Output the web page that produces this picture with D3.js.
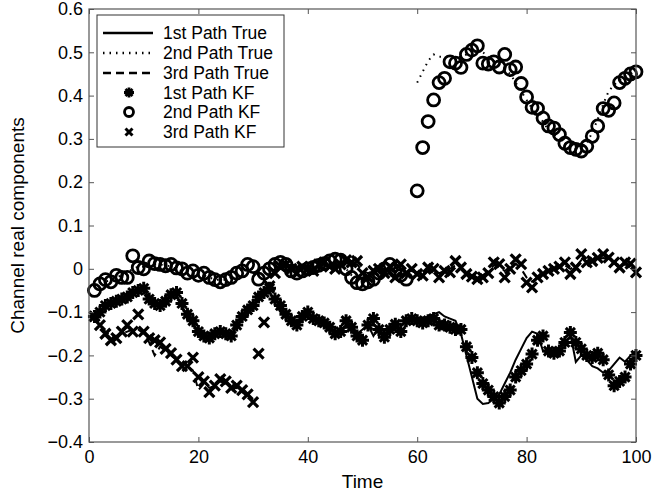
<!DOCTYPE html>
<html>
<head>
<meta charset="utf-8">
<script src="https://cdn.jsdelivr.net/npm/d3@7"></script>
<style>
  body { margin: 0; background: #fff; }
  text { font-family: "Liberation Sans", Arial, Helvetica, sans-serif; }
</style>
</head>
<body>
<script>
var width = 670,
    height = 497;
var margin = {left: 89, right: 34, top: 9, bottom: 55};

// time index 1..100
var time = d3.range(1, 101);

var path1True = [-0.11,-0.10,-0.09,-0.08,-0.075,-0.07,-0.06,-0.055,-0.05,-0.05,
 -0.065,-0.08,-0.08,-0.075,-0.06,-0.06,-0.085,-0.11,-0.125,-0.145,
 -0.155,-0.155,-0.15,-0.15,-0.15,-0.15,-0.135,-0.115,-0.10,-0.085,
 -0.07,-0.055,-0.05,-0.08,-0.10,-0.11,-0.12,-0.125,-0.115,-0.105,
 -0.115,-0.12,-0.125,-0.135,-0.145,-0.14,-0.13,-0.14,-0.15,-0.14,
 -0.13,-0.155,-0.135,-0.14,-0.135,-0.13,-0.155,-0.125,-0.12,-0.12,
 -0.115,-0.11,-0.105,-0.10,-0.11,-0.115,-0.12,-0.15,-0.20,-0.25,
 -0.30,-0.312,-0.31,-0.30,-0.29,-0.265,-0.24,-0.21,-0.185,-0.16,
 -0.145,-0.15,-0.19,-0.195,-0.19,-0.18,-0.16,-0.15,-0.215,-0.20,
 -0.21,-0.225,-0.23,-0.24,-0.235,-0.22,-0.205,-0.215,-0.20,-0.19];

var path2True = [-0.04,-0.035,-0.03,-0.025,-0.02,-0.015,-0.01,0.0,0.005,0.005,
 0.01,0.01,0.01,0.008,0.005,0.0,-0.005,-0.01,-0.01,-0.015,
 -0.015,-0.02,-0.025,-0.025,-0.025,-0.02,-0.01,0.0,0.005,0.0,
 -0.01,-0.005,0.0,0.005,0.01,0.005,0.0,-0.005,-0.005,0.0,
 0.005,0.01,0.012,0.015,0.018,0.012,0.0,-0.015,-0.025,-0.03,
 -0.028,-0.02,-0.01,0.0,0.005,-0.005,-0.012,-0.02,null,0.43,
 0.455,0.48,0.495,0.49,0.49,0.49,0.49,0.49,0.495,0.50,
 0.505,0.50,0.49,0.48,0.47,0.46,0.45,0.43,0.41,0.39,
 0.37,0.35,0.34,0.32,0.31,0.30,0.29,0.28,0.28,0.28,
 0.29,0.315,0.345,0.38,0.41,0.425,0.435,0.445,0.45,0.46];

var path3True = [-0.115,-0.13,-0.145,-0.155,-0.155,-0.15,-0.145,-0.14,-0.14,-0.15,
 -0.17,-0.2,-0.18,-0.19,-0.2,-0.21,-0.22,-0.225,-0.235,-0.28,
 -0.265,-0.275,-0.27,-0.26,-0.265,-0.275,-0.275,-0.285,-0.295,-0.305,
 null,null,-0.02,-0.01,0.0,0.005,0.0,-0.005,0.0,0.0,
 0.0,0.005,0.01,0.005,0.005,0.01,0.015,0.012,0.01,-0.005,
 -0.01,-0.005,-0.005,-0.005,0.0,-0.01,0.0,-0.005,-0.005,-0.01,
 -0.01,-0.005,-0.005,-0.01,-0.005,0.0,0.008,0.0,-0.01,-0.015,
 -0.02,-0.015,-0.005,0.008,0.005,-0.005,0.005,0.012,0.0,-0.02,
 -0.03,-0.02,-0.01,-0.005,0.0,0.005,0.008,0.0,0.005,0.02,
 0.018,0.02,0.022,0.025,0.022,0.015,0.008,0.01,0.008,0.0];

var path1KF = [-0.11,-0.10,-0.085,-0.08,-0.075,-0.07,-0.065,-0.055,-0.05,-0.045,
 -0.07,-0.08,-0.085,-0.075,-0.06,-0.055,-0.08,-0.105,-0.12,-0.145,
 -0.155,-0.16,-0.15,-0.145,-0.15,-0.155,-0.13,-0.11,-0.095,-0.085,
 -0.065,-0.055,-0.045,-0.07,-0.085,-0.105,-0.12,-0.13,-0.11,-0.10,
 -0.115,-0.12,-0.125,-0.135,-0.15,-0.145,-0.12,-0.135,-0.155,-0.165,
 -0.13,-0.115,-0.14,-0.158,-0.14,-0.128,-0.145,-0.12,-0.115,-0.12,
 -0.125,-0.12,-0.115,-0.13,-0.13,-0.135,-0.14,-0.14,-0.18,-0.205,
 -0.24,-0.265,-0.28,-0.295,-0.31,-0.295,-0.28,-0.25,-0.235,-0.22,
 -0.197,-0.165,-0.155,-0.19,-0.195,-0.19,-0.17,-0.147,-0.17,-0.185,
 -0.2,-0.205,-0.195,-0.21,-0.245,-0.27,-0.26,-0.25,-0.22,-0.2];

var path2KF = [-0.05,-0.035,-0.025,-0.03,-0.015,-0.02,-0.02,0.03,0.003,0.0,
 0.018,0.012,0.01,0.007,0.01,0.002,0.0,-0.01,-0.005,-0.015,
 -0.01,-0.02,-0.025,-0.03,-0.025,-0.02,-0.01,-0.005,0.01,0.005,
 -0.024,-0.01,0.0,0.01,0.015,0.01,-0.005,-0.01,-0.005,0.0,
 0.003,0.008,0.012,0.018,0.022,0.02,0.0,-0.02,-0.032,-0.035,
 -0.03,-0.024,-0.01,0.0,0.01,-0.005,-0.015,-0.024,null,0.18,
 0.28,0.34,0.39,0.43,0.44,0.478,0.475,0.465,0.495,0.505,
 0.515,0.475,0.473,0.478,0.466,0.495,0.46,0.466,0.428,0.397,
 0.373,0.37,0.348,0.33,0.325,0.31,0.29,0.28,0.276,0.272,
 0.283,0.306,0.33,0.37,0.366,0.383,0.43,0.44,0.45,0.455];

var path3KF = [-0.11,-0.13,-0.15,-0.165,-0.16,-0.145,-0.13,-0.145,-0.105,-0.145,
 -0.16,-0.165,-0.17,-0.185,-0.195,-0.21,-0.225,-0.225,-0.205,-0.25,
 -0.26,-0.285,-0.27,-0.255,-0.26,-0.275,-0.27,-0.28,-0.29,-0.308,
 -0.196,-0.124,-0.04,-0.01,0.005,0.01,0.0,-0.01,0.005,0.0,
 -0.005,0.01,0.015,0.005,0.0,0.01,0.02,0.015,0.018,-0.01,
 -0.02,-0.005,0.0,-0.01,0.005,-0.02,0.01,-0.01,0.0,-0.012,
 -0.016,0.003,0.0,-0.02,-0.005,-0.008,0.018,0.003,-0.012,-0.018,
 -0.024,-0.02,-0.01,0.015,0.011,-0.02,0.0,0.022,0.011,-0.032,
 -0.043,-0.02,-0.012,-0.005,0.0,0.005,0.015,-0.012,0.003,0.034,
 0.015,0.018,0.025,0.034,0.026,0.015,0.003,0.015,0.012,-0.008];

var xTicks = [0, 20, 40, 60, 80, 100];
var yTicks = [-0.4, -0.3, -0.2, -0.1, 0, 0.1, 0.2, 0.3, 0.4, 0.5, 0.6];
var legendLabels = ["1st Path True", "2nd Path True", "3rd Path True",
                    "1st Path KF", "2nd Path KF", "3rd Path KF"];

var svg = d3.select("body").append("svg")
    .attr("width", width)
    .attr("height", height)
    .style("background", "#fff");

var x = d3.scaleLinear().domain([0, 100]).range([margin.left, width - margin.right]);
var y = d3.scaleLinear().domain([-0.4, 0.6]).range([height - margin.bottom, margin.top]);

var fmt = function(d) { return d === 0 ? "0" : d3.format(".1f")(d); };

// marker shapes (matlab-like)
function asterisk(r) {
    var k = r * 0.7071;
    return "M" + (-r) + ",0H" + r + "M0," + (-r) + "V" + r +
        "M" + (-k) + "," + (-k) + "L" + k + "," + k +
        "M" + (-k) + "," + k + "L" + k + "," + (-k);
}
function cross(r) {
    return "M" + (-r) + "," + (-r) + "L" + r + "," + r +
        "M" + (-r) + "," + r + "L" + r + "," + (-r);
}

var plot = svg.append("g");

var line = d3.line()
    .defined(function(d) { return d[1] != null; })
    .x(function(d) { return x(d[0]); })
    .y(function(d) { return y(d[1]); });

function pairs(vals) { return time.map(function(t, i) { return [t, vals[i]]; }); }

var trueSeries = [
    {vals: path1True, dash: null},
    {vals: path2True, dash: "1.5,5"},
    {vals: path3True, dash: "8,5"}
];
trueSeries.forEach(function(s) {
    plot.append("path")
        .attr("d", line(pairs(s.vals)))
        .attr("fill", "none")
        .attr("stroke", "#000")
        .attr("stroke-width", 2)
        .attr("stroke-dasharray", s.dash);
});

// KF markers
function drawMarkers(vals, kind) {
    var pts = pairs(vals).filter(function(d) { return d[1] != null; });
    var g = plot.append("g");
    if (kind === "o") {
        g.selectAll("circle").data(pts).enter().append("circle")
            .attr("cx", function(d) { return x(d[0]); })
            .attr("cy", function(d) { return y(d[1]); })
            .attr("r", 6)
            .attr("fill", "none")
            .attr("stroke", "#000")
            .attr("stroke-width", 2.8);
    } else {
        g.selectAll("path").data(pts).enter().append("path")
            .attr("transform", function(d) { return "translate(" + x(d[0]) + "," + y(d[1]) + ")"; })
            .attr("d", kind === "*" ? asterisk(6.5) : cross(5))
            .attr("fill", "none")
            .attr("stroke", "#000")
            .attr("stroke-width", kind === "*" ? 3 : 3.2);
    }
}
drawMarkers(path1KF, "*");
drawMarkers(path2KF, "o");
drawMarkers(path3KF, "x");

// axes
var axisColor = "#555";
var axBottom = svg.append("g")
    .attr("transform", "translate(0," + y.range()[0] + ")")
    .call(d3.axisBottom(x).tickValues(xTicks).tickSizeInner(-5).tickSizeOuter(0).tickPadding(8));
var axLeft = svg.append("g")
    .attr("transform", "translate(" + x.range()[0] + ",0)")
    .call(d3.axisLeft(y).tickValues(yTicks).tickFormat(fmt).tickSizeInner(-5).tickSizeOuter(0).tickPadding(6));
var axTop = svg.append("g")
    .attr("transform", "translate(0," + y.range()[1] + ")")
    .call(d3.axisTop(x).tickValues(xTicks).tickFormat("").tickSizeInner(-5).tickSizeOuter(0));
var axRight = svg.append("g")
    .attr("transform", "translate(" + x.range()[1] + ",0)")
    .call(d3.axisRight(y).tickValues(yTicks).tickFormat("").tickSizeInner(-5).tickSizeOuter(0));

[axBottom, axLeft, axTop, axRight].forEach(function(g) {
    g.select(".domain").remove();
    g.selectAll(".tick line").attr("stroke", axisColor);
    g.selectAll(".tick text")
        .attr("fill", "#000")
        .style("font-size", "18px")
        .style("font-family", "'Liberation Sans', Arial, sans-serif");
});

svg.append("rect")
    .attr("x", x.range()[0])
    .attr("y", y.range()[1])
    .attr("width", x.range()[1] - x.range()[0])
    .attr("height", y.range()[0] - y.range()[1])
    .attr("fill", "none")
    .attr("stroke", axisColor)
    .attr("stroke-width", 1.2);

// axis labels
svg.append("text")
    .attr("x", (x.range()[0] + x.range()[1]) / 2)
    .attr("y", 488)
    .attr("text-anchor", "middle")
    .style("font-size", "19px")
    .text("Time");

svg.append("text")
    .attr("transform", "translate(24," + ((y.range()[0] + y.range()[1]) / 2) + ") rotate(-90)")
    .attr("text-anchor", "middle")
    .style("font-size", "19px")
    .text("Channel real components");

// legend
var lg = svg.append("g").attr("transform", "translate(97,15)");
lg.append("rect")
    .attr("width", 187)
    .attr("height", 132)
    .attr("fill", "#fff")
    .attr("stroke", "#333")
    .attr("stroke-width", 1);

var rowY = [18, 38, 58, 77.5, 97, 117];
legendLabels.forEach(function(lab, i) {
    var row = lg.append("g").attr("transform", "translate(0," + rowY[i] + ")");
    if (i < 3) {
        row.append("line")
            .attr("x1", 6).attr("x2", 56)
            .attr("stroke", "#000")
            .attr("stroke-width", 2.5)
            .attr("stroke-dasharray", trueSeries[i].dash);
    } else if (i === 4) {
        row.append("circle").attr("cx", 32).attr("r", 4.5)
            .attr("fill", "none").attr("stroke", "#000").attr("stroke-width", 2.8);
    } else {
        row.append("path")
            .attr("transform", "translate(32,0)")
            .attr("d", i === 3 ? asterisk(5) : cross(3.5))
            .attr("fill", "none").attr("stroke", "#000")
            .attr("stroke-width", i === 3 ? 2.8 : 3);
    }
    row.append("text")
        .attr("x", 66)
        .attr("y", 6)
        .style("font-size", "17.5px")
        .text(lab);
});
</script>
</body>
</html>
